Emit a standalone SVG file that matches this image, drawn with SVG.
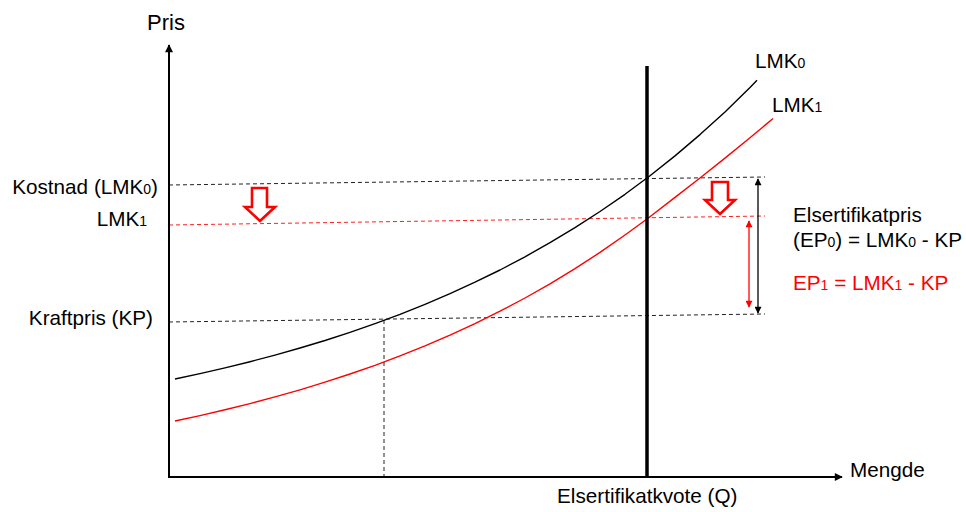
<svg xmlns="http://www.w3.org/2000/svg" width="966" height="512" viewBox="0 0 966 512">
<style>
text{font-family:"Liberation Sans",Arial,sans-serif;font-size:20.7px;fill:#000}
.sub{font-size:14px}
.red{fill:#ff0000}
.axis{stroke:#000;stroke-width:2;fill:none}
.dash{stroke:#222;stroke-width:1;stroke-dasharray:4 3;fill:none}
.rdash{stroke:#ff2020;stroke-width:1;stroke-dasharray:4 3;fill:none}
.curve{stroke:#000;stroke-width:1.4;fill:none;stroke-linejoin:round}
.rcurve{stroke:#ff0000;stroke-width:1.4;fill:none;stroke-linejoin:round}
.hollow{stroke:#ff0000;stroke-width:2.6;fill:#fff;stroke-linejoin:miter}
</style>
<defs>
<marker id="ax" viewBox="0 0 10 10" refX="9" refY="5" markerWidth="10" markerHeight="8" markerUnits="userSpaceOnUse" orient="auto"><path d="M0,0 L10,5 L0,10 z" fill="#000"/></marker>
<marker id="dk" viewBox="0 0 10 10" refX="9" refY="5" markerWidth="9" markerHeight="7" markerUnits="userSpaceOnUse" orient="auto-start-reverse"><path d="M0,0 L10,5 L0,10 z" fill="#000"/></marker>
<marker id="dr" viewBox="0 0 10 10" refX="9" refY="5" markerWidth="9" markerHeight="7" markerUnits="userSpaceOnUse" orient="auto-start-reverse"><path d="M0,0 L10,5 L0,10 z" fill="#ff0000"/></marker>
</defs>
<rect width="966" height="512" fill="#fff"/>
<g id="connectors">
<line class="dash" x1="169" y1="185" x2="765" y2="177"/>
<line class="rdash" x1="169" y1="225" x2="765" y2="216"/>
<line class="dash" x1="169" y1="322" x2="765" y2="314"/>
<line class="dash" x1="384" y1="320" x2="384" y2="476"/>
<path class="curve" d="M175,379 L200,373.6 L225,367.9 L250,361.7 L275,355.1 L300,348 L325,340.5 L350,332.3 L375,323.6 L400,314.3 L425,304.3 L450,293.7 L475,282.2 L500,270 L525,256.8 L550,242.7 L575,227.7 L600,211.5 L625,194.3 L650,175.7 L675,155.9 L700,134.6 L725,111.9 L750,87.5 L757,80.3"/>
<path class="rcurve" d="M175,421 L200,415.6 L225,409.8 L250,403.6 L275,396.9 L300,389.8 L325,382.2 L350,374 L375,365.3 L400,355.9 L425,345.9 L450,335.1 L475,323.6 L500,311.2 L525,298 L550,283.9 L575,268.7 L600,252.4 L625,235 L647,219 L675,197.4 L700,178 L725,158.1 L750,137.8 L773,118.5"/>
<line x1="647" y1="66" x2="647" y2="477" stroke="#000" stroke-width="3.5"/>
<line class="axis" x1="169" y1="477" x2="169" y2="45" marker-end="url(#ax)"/>
<line class="axis" x1="168" y1="477" x2="842" y2="477" marker-end="url(#ax)"/>
<line x1="758" y1="179" x2="758" y2="313" stroke="#000" stroke-width="1.3" marker-start="url(#dk)" marker-end="url(#dk)"/>
<line x1="749" y1="221" x2="749" y2="307" stroke="#ff0000" stroke-width="1.3" marker-start="url(#dr)" marker-end="url(#dr)"/>
</g>
<g id="arrow-down-left"><polygon class="hollow" points="252,188 267,188 267,207 275,207 260,221 245,207 252,207"/></g>
<g id="arrow-down-right"><polygon class="hollow" points="712,182 728,182 728,200 735,200 720,214 705,200 712,200"/></g>
<g id="label-pris"><text x="147" y="30" style="font-size:22px">Pris</text></g>
<g id="label-kostnad"><text x="158" y="194" text-anchor="end">Kostnad (LMK<tspan class="sub">0</tspan>)</text></g>
<g id="label-lmk1-left"><text x="147" y="226" text-anchor="end">LMK<tspan class="sub">1</tspan></text></g>
<g id="label-kraftpris"><text x="153" y="325" text-anchor="end">Kraftpris (KP)</text></g>
<g id="label-lmk0-curve"><text x="755" y="68">LMK<tspan class="sub">0</tspan></text></g>
<g id="label-lmk1-curve"><text x="772" y="112">LMK<tspan class="sub">1</tspan></text></g>
<g id="label-ep0"><text x="793" y="222">Elsertifikatpris</text><text x="793" y="247">(EP<tspan class="sub">0</tspan>) = LMK<tspan class="sub">0</tspan> - KP</text></g>
<g id="label-ep1"><text class="red" x="793" y="290">EP<tspan class="sub">1</tspan> = LMK<tspan class="sub">1</tspan> - KP</text></g>
<g id="label-mengde"><text x="850" y="477">Mengde</text></g>
<g id="label-kvote"><text x="557" y="503">Elsertifikatkvote (Q)</text></g>
</svg>
